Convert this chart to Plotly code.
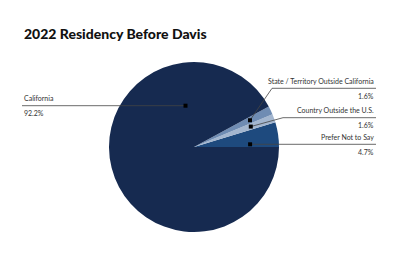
import math
import plotly.graph_objects as go

# ---- data ----
categories = ["Prefer Not to Say", "Country Outside the U.S.", "State / Territory Outside California", "California"]
shares = [4.7, 1.6, 1.6, 92.2]
value_labels = ["4.7%", "1.6%", "1.6%", "92.2%"]
colors = ["#1e4a7e", "#a3b6cf", "#6f8cb3", "#162a50"]

# ---- layout constants (pixels) ----
W, H = 400, 266
CX, CY, R = 194, 147, 85
FONT = "Lato"
RIGHT_X = 376
LEFT_X = 22
label_cfg = {
    "Prefer Not to Say": dict(side="right", line_y=144.3, elbow=None, mode="line", rx=0.66),
    "Country Outside the U.S.": dict(side="right", line_y=117.7, elbow=283, mode="mid", rf=0.71),
    "State / Territory Outside California": dict(side="right", line_y=88.3, elbow=272, mode="mid", rf=0.73),
    "California": dict(side="left", line_y=105.7, elbow=None, mode="line", rx=-0.1),
}

total = sum(shares)
# plotly places the first slice clockwise of the rotation line when counterclockwise;
# shift so the first slice starts at 3 o'clock and grows upward
rotation = 90 - shares[0] / total * 360

fig = go.Figure()
fig.add_trace(go.Pie(
    labels=categories, values=shares, sort=False, direction="counterclockwise",
    rotation=rotation, marker=dict(colors=colors, line=dict(width=0)),
    textinfo="none", hoverinfo="label+percent", showlegend=False,
    domain=dict(x=[(CX - R) / W, (CX + R) / W], y=[1 - (CY + R) / H, 1 - (CY - R) / H]),
))

cum = 0.0
annotations = []
shapes = []
LINE = dict(color="#444444", width=0.8)
for cat, v, vl in zip(categories, shares, value_labels):
    cfg = label_cfg[cat]
    mid = (cum + v / 2) / total * 2 * math.pi
    cum += v
    if cfg["mode"] == "mid":
        dx = CX + cfg["rf"] * R * math.cos(mid)
        dy = CY - cfg["rf"] * R * math.sin(mid)
    else:
        dx = CX + cfg["rx"] * R
        dy = cfg["line_y"]
    ly = cfg["line_y"]
    if cfg["side"] == "right":
        if cfg["elbow"] is not None:
            pts = [(dx, dy), (cfg["elbow"], ly), (RIGHT_X, ly)]
        else:
            pts = [(dx, ly), (RIGHT_X, ly)]
        tx, xanchor = RIGHT_X, "right"
    else:
        pts = [(LEFT_X, ly), (dx, ly)]
        tx, xanchor = LEFT_X, "left"
    path = "M " + " L ".join(f"{px:.2f},{py:.2f}" for px, py in pts)
    shapes.append(dict(type="path", path=path, xref="x", yref="y", line=LINE, layer="above"))
    shapes.append(dict(type="rect", xref="x", yref="y", x0=dx - 2, x1=dx + 2, y0=dy - 2, y1=dy + 2,
                       fillcolor="#000000", line=dict(width=0), layer="above"))
    annotations.append(dict(x=tx, y=ly - 1.5, xref="x", yref="y", text=cat, showarrow=False,
                            xanchor=xanchor, yanchor="bottom", font=dict(family=FONT, size=7, color="#333333")))
    annotations.append(dict(x=tx, y=ly + 1.2, xref="x", yref="y", text=vl, showarrow=False,
                            xanchor=xanchor, yanchor="top", font=dict(family=FONT, size=7, color="#333333")))

annotations.append(dict(x=LEFT_X, y=33, xref="x", yref="y", text="2022 Residency Before Davis",
                        showarrow=False, xanchor="left", yanchor="middle",
                        font=dict(family=FONT, size=14, color="#111111", weight=900)))

fig.update_layout(
    width=W, height=H, margin=dict(l=0, r=0, t=0, b=0),
    paper_bgcolor="white", plot_bgcolor="rgba(0,0,0,0)",
    xaxis=dict(range=[0, W], visible=False, fixedrange=True),
    yaxis=dict(range=[H, 0], visible=False, fixedrange=True),
    annotations=annotations, shapes=shapes,
)
fig.write_html("out.html")
